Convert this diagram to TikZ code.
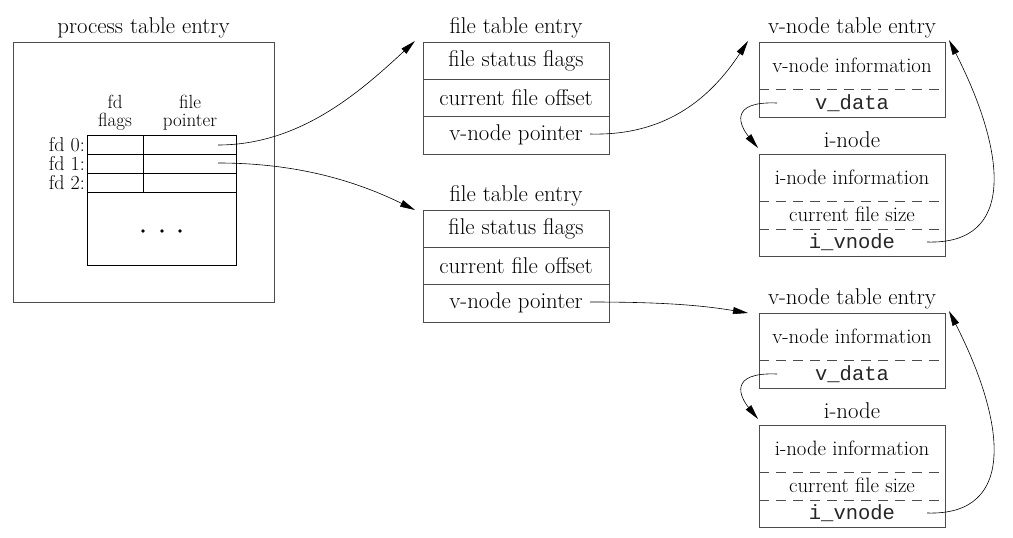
\documentclass[tikz,border=0pt]{standalone}
\usepackage{fontspec}
\setmonofont{Liberation Mono}
\usetikzlibrary{arrows.meta,calc}
\begin{document}
\begin{tikzpicture}[x=1pt,y=-1pt,
  frame/.style={draw=black!70, line width=0.8pt, inner sep=0pt, outer sep=0pt},
  cell/.style={draw=black, line width=0.8pt, inner sep=0pt, outer sep=0pt, minimum height=19pt},
  box/.style={frame, minimum width=186pt},
  big/.style={font=\fontsize{22.8}{24}\selectfont, inner sep=0pt},
  small/.style={font=\fontsize{20.8}{22}\selectfont, inner sep=0pt},
  lbl/.style={font=\fontsize{20}{21}\selectfont, inner sep=2pt},
  mono/.style={font=\ttfamily\fontsize{20.5}{22}\selectfont, inner sep=0pt, text=black!85},
  hdr/.style={font=\fontsize{19}{20}\selectfont, inner sep=0pt, anchor=base},
  arr/.style={-{Triangle[length=15pt,width=7pt]}, line width=0.6pt},
  dsh/.style={draw=black!70, line width=0.8pt, dash pattern=on 10pt off 7pt}]
\useasboundingbox (0,0) rectangle (1013,538);

% process table entry
\node[big] (ptitle) at (143.5,28) {process table entry};
\node[frame, minimum width=261pt, minimum height=260pt] (pbox) at (143.5,172) {};
\node[hdr] (hfd) at (115,108) {fd};
\node[hdr] (hflags) at (115,126) {flags};
\node[hdr] (hfile) at (190,108) {file};
\node[hdr] (hptr) at (190,126) {pointer};
\node[cell, minimum width=56pt] (c0a) at (115,144.5) {};
\node[cell, minimum width=93pt] (c0b) at (189.5,144.5) {};
\node[cell, minimum width=56pt] (c1a) at (115,163.5) {};
\node[cell, minimum width=93pt] (c1b) at (189.5,163.5) {};
\node[cell, minimum width=56pt] (c2a) at (115,182.5) {};
\node[cell, minimum width=93pt] (c2b) at (189.5,182.5) {};
\node[cell, minimum width=149pt, minimum height=73pt] (cdots) at (161.5,228.5) {};
\node[lbl, anchor=east] (l0) at (c0a.west) {fd 0:};
\node[lbl, anchor=east] (l1) at (c1a.west) {fd 1:};
\node[lbl, anchor=east] (l2) at (c2a.west) {fd 2:};
\fill (143,231) circle (1.8pt) (162,231) circle (1.8pt) (180,231) circle (1.8pt);
\coordinate (p0) at (218,145);
\coordinate (p1) at (218,163);

% file table entries
\foreach \k/\dy in {1/0, 2/168}{
  \node[big] (ft\k) at (516,{28+\dy}) {file table entry};
  \node[box, minimum height=37pt] (f\k a) at (516,{60.5+\dy}) {};
  \node[box, minimum height=37pt] (f\k b) at (516,{97.5+\dy}) {};
  \node[box, minimum height=38pt] (f\k c) at (516,{135+\dy}) {};
  \node[big] (t\k a) at (f\k a) {file status flags};
  \node[big] (t\k b) at (f\k b) {current file offset};
  \node[big] (t\k c) at (f\k c) {v-node pointer};
  \coordinate (q\k) at (590,{134+\dy});
}

% v-node and i-node entries
\foreach \k/\dy in {1/0, 2/271}{
  \node[big] (vt\k) at (852,{28+\dy}) {v-node table entry};
  \node[box, minimum height=75pt] (v\k) at (852,{79.5+\dy}) {};
  \draw[dsh] (v\k.west |- 0,{89+\dy}) -- (v\k.east |- 0,{89+\dy});
  \node[small] (vi\k) at (852,{65+\dy}) {v-node information};
  \node[mono] (vd\k) at (852,{103+\dy}) {v\_data};
  \node[big] (it\k) at (852,{140+\dy}) {i-node};
  \node[box, minimum height=102pt] (i\k) at (852,{205+\dy}) {};
  \draw[dsh] (i\k.west |- 0,{201+\dy}) -- (i\k.east |- 0,{201+\dy});
  \draw[dsh] (i\k.west |- 0,{229+\dy}) -- (i\k.east |- 0,{229+\dy});
  \node[small] (ii\k) at (852,{177+\dy}) {i-node information};
  \node[small] (is\k) at (852,{214.5+\dy}) {current file size};
  \node[mono] (iv\k) at (852,{242+\dy}) {i\_vnode};
  \coordinate (vds\k) at (777,{103+\dy});
  \coordinate (ivs\k) at (927,{242+\dy});
  \draw[arr] (vds\k) .. controls (728,{101+\dy}) and (740,{126+\dy}) .. ($(i\k.north west)+(-1,-6)$);
  \draw[arr] (ivs\k) .. controls (1018,{245+\dy}) and (1005,{150+\dy}) .. ($(v\k.north east)+(4,-2)$);
}

% connectors between tables
\draw[arr] (p0) .. controls (300,145) and (360,92) .. ($(f1a.north west)+(-8,-1)$);
\draw[arr] (p1) .. controls (290,163) and (350,178) .. ($(f2a.north west)+(-8,0)$);
\draw[arr] (q1) .. controls (662,136) and (708,102) .. ($(v1.north west)+(-11,-1)$);
\draw[arr] (q2) .. controls (660,302) and (700,305) .. ($(v2.north west)+(-11,0)$);
\end{tikzpicture}
\end{document}
